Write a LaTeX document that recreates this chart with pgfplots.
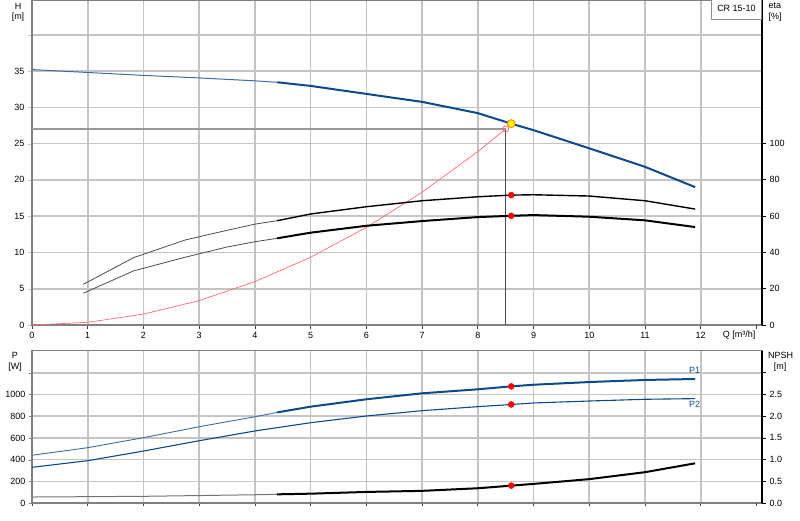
\documentclass[border=0pt]{standalone}
\usepackage{fontspec}
\setmainfont{Liberation Sans}
\usepackage{pgfplots}
\pgfplotsset{compat=1.18}

\definecolor{gblue}{RGB}{12,74,140}
\definecolor{sysred}{RGB}{255,110,110}
\definecolor{gridc}{RGB}{196,196,196}
\definecolor{axc}{RGB}{128,128,128}

\newcommand\lbl{\fontsize{9}{10}\selectfont}

\pgfplotsset{
  panel/.style={
    scale only axis, width=730pt,
    xmin=0, xmax=13.1,
    ticklabel style={font=\lbl},
    major tick length=4pt, tick align=outside,
  },
  leftax/.style={
    panel,
    xtick={0,...,12},
    extra x ticks={13}, extra x tick labels={},
    extra x tick style={grid=none},
    grid=major,
    grid style={draw=gridc, line width=1.6pt},
    axis line style={axc, line width=1.3pt},
    xtick pos=left, ytick pos=left,
    x tick style={black!75, line width=0.8pt},
  },
  rightax/.style={
    panel,
    axis x line=none, axis y line*=right,
    axis line style={black, line width=1.2pt, -},
    y tick style={black, line width=0.8pt},
  },
}

\begin{document}
\begin{tikzpicture}
\path[use as bounding box] (0pt,0pt) rectangle (800pt,-520pt);

% ---------- upper panel: head ----------
\begin{axis}[leftax,
  at={(32pt,-325pt)}, anchor=south west, height=325pt,
  ymin=0, ymax=44.79,
  xticklabels={0,1,2,3,4,5,6,7,8,9,10,11,12},
  ytick={0,5,...,40}, yticklabels={0,5,10,15,20,25,30,35,{}},
  y tick style={draw=gridc},
]
% duty point guide lines
\addplot[black!40, line width=1.5pt] coordinates {(0,27) (8.5,27)};
\addplot[black!70, line width=0.7pt] coordinates {(8.5,27) (8.5,0)};
% system curve
\addplot[sysred, line width=0.7pt] coordinates {
  (0,0) (1,0.37) (2,1.5) (3,3.36) (4,5.98) (5,9.34) (6,13.45) (7,18.3) (8,23.9) (8.5,27.0)};
% QH curve
\addplot[gblue!80, line width=1pt] coordinates {
  (0,35.2) (1,34.8) (2,34.4) (3,34.05) (4,33.65) (4.4,33.45)};
\addplot[gblue, line width=2pt] coordinates {
  (4.4,33.45) (5,32.95) (6,31.85) (7,30.75) (8,29.2) (8.6,27.75) (9,26.85) (10,24.35) (11,21.8) (11.9,19.0)};
\addplot[only marks, mark=o, mark size=3pt, sysred, mark options={line width=0.8pt}] coordinates {(8.5,27)};
\addplot[only marks, mark=*, mark size=4pt, mark options={fill=yellow, draw=orange, line width=0.8pt}] coordinates {(8.6,27.75)};
\end{axis}

% ---------- upper panel: efficiency ----------
\begin{axis}[rightax,
  at={(32pt,-325pt)}, anchor=south west, height=325pt,
  ymin=0, ymax=179.16,
  ytick={0,20,...,100}, yticklabels={0,20,40,60,80,100},
]
\addplot[black!70, line width=0.8pt] coordinates {
  (0.92,22.4) (1.82,37.1) (2.74,46.8) (3.5,52.2) (4,55.6) (4.4,57.5)};
\addplot[black, line width=1.4pt] coordinates {
  (4.4,57.5) (5,61.2) (6,65.2) (7,68.5) (8,70.7) (8.6,71.6) (9,71.8) (10,71.1) (11,68.5) (11.9,63.9)};
\addplot[black!70, line width=0.8pt] coordinates {
  (0.92,17.5) (1.82,29.8) (2.74,37.3) (3.5,43.0) (4,45.9) (4.4,47.8)};
\addplot[black, line width=2pt] coordinates {
  (4.4,47.8) (5,50.9) (6,54.7) (7,57.3) (8,59.5) (8.6,60.2) (9,60.6) (10,59.7) (11,57.7) (11.9,54.0)};
\addplot[only marks, mark=*, mark size=3pt, red] coordinates {(8.6,71.6) (8.6,60.2)};
\end{axis}

% ---------- lower panel: power ----------
\begin{axis}[leftax,
  at={(32pt,-503pt)}, anchor=south west, height=152.3pt,
  ymin=0, ymax=1403.7,
  xticklabels={},
  ytick={0,200,...,1200}, yticklabels={0,200,400,600,800,1000,{}},
  major tick length=3pt,
]
\addplot[gblue!80, line width=0.9pt] coordinates {
  (0,440) (1,510) (2,602) (3,703) (4,795) (4.4,835)};
\addplot[gblue, line width=2pt] coordinates {
  (4.4,835) (5,888) (6,956) (7,1011) (8,1048) (8.6,1075) (9,1090) (10,1115) (11,1134) (11.9,1143)};
\addplot[gblue, line width=1.1pt] coordinates {
  (0,329) (1,390) (2,479) (3,574) (4,664) (5,740) (6,802) (7,851) (8,888) (8.6,908) (9,922) (10,940) (11,956) (11.9,962)};
\addplot[only marks, mark=*, mark size=3pt, red] coordinates {(8.6,1075) (8.6,908)};
\node[gblue, font=\lbl] at (axis cs:11.89,1219) {P1};
\node[gblue, font=\lbl] at (axis cs:11.89,910) {P2};
\end{axis}

% ---------- lower panel: NPSH ----------
\begin{axis}[rightax,
  at={(32pt,-503pt)}, anchor=south west, height=152.3pt,
  ymin=0, ymax=3.509,
  ytick={0,0.5,...,3}, yticklabels={0.0,0.5,1.0,1.5,2.0,2.5,{}},
]
\addplot[black!55, line width=1pt] coordinates {
  (0,0.138) (2,0.154) (4,0.19) (4.4,0.2)};
\addplot[black, line width=2pt] coordinates {
  (4.4,0.2) (5,0.215) (6,0.255) (7,0.28) (8,0.34) (8.6,0.40) (9,0.44) (10,0.55) (11,0.71) (11.9,0.915)};
\addplot[only marks, mark=*, mark size=3pt, red] coordinates {(8.6,0.40)};
\end{axis}

% ---------- titles ----------
\node[font=\lbl] at (18pt,-6pt) {H};
\node[font=\lbl] at (18pt,-17.5pt) {[m]};
\node[font=\lbl, anchor=west] at (765pt,-6pt) {eta};
\node[font=\lbl, anchor=west] at (765pt,-17.5pt) {[\%]};
\node[font=\lbl] at (739pt,-335pt) {Q [m³/h]};
\node[font=\lbl] at (15pt,-355.5pt) {P};
\node[font=\lbl] at (15pt,-367.5pt) {[W]};
\node[font=\lbl] at (780.5pt,-355.5pt) {NPSH};
\node[font=\lbl] at (780pt,-367.5pt) {[m]};
\draw[black!45, fill=white, line width=0.8pt] (711.5pt,0.5pt) rectangle (761.5pt,-19.3pt);
\node[font=\lbl] at (736.5pt,-8pt) {CR 15-10};
\end{tikzpicture}
\end{document}
